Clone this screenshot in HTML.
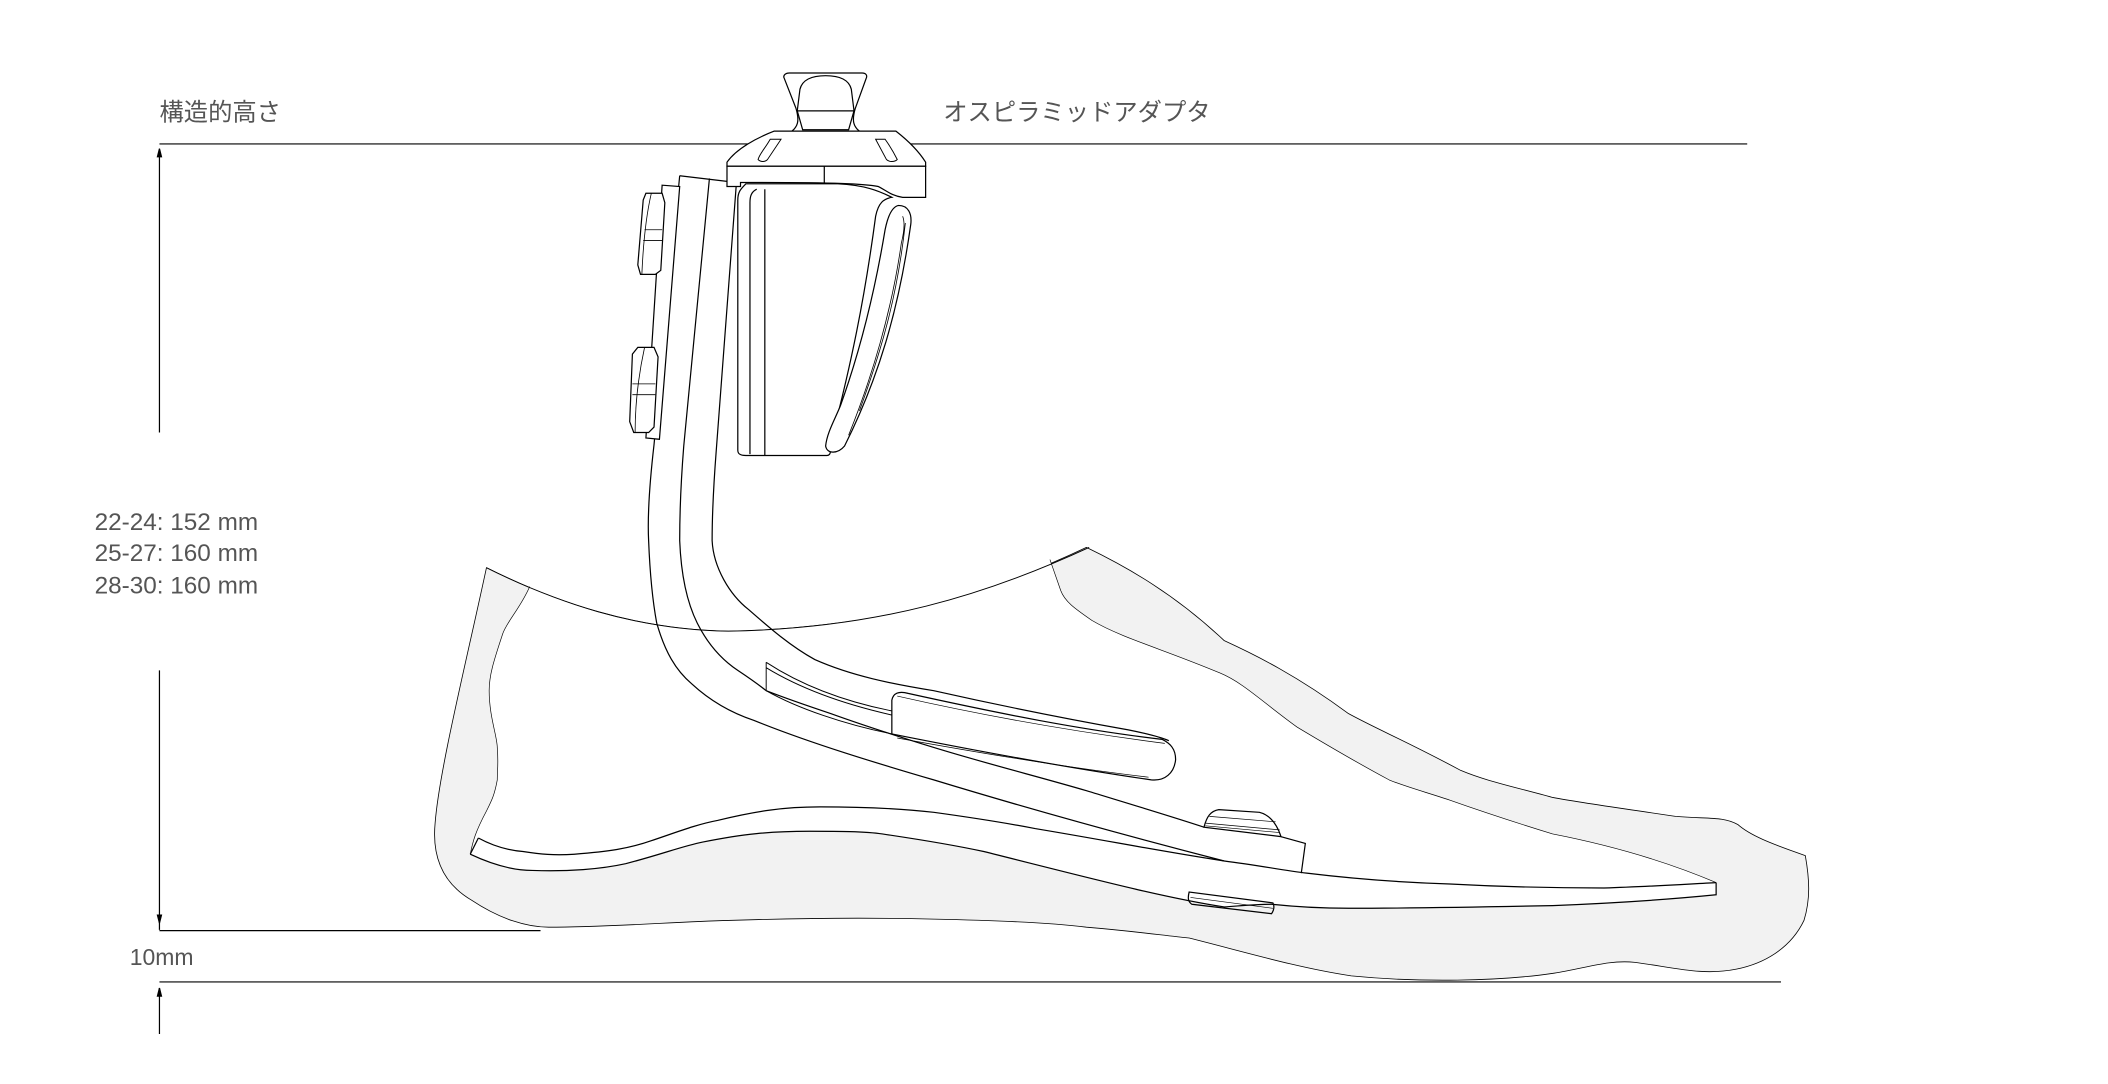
<!DOCTYPE html>
<html><head><meta charset="utf-8"><style>
html,body{margin:0;padding:0;background:#fff;}
svg{display:block}
text{font-family:"Liberation Sans","Noto Sans CJK JP",sans-serif;fill:#555;font-size:18px}
</style></head><body>
<svg width="2108" height="1084" viewBox="0 0 1560 802" preserveAspectRatio="none" xmlns="http://www.w3.org/2000/svg">
<g fill="none" stroke="#000" stroke-width="0.9">
<line x1="118" y1="106.5" x2="1293" y2="106.5"/>
<line x1="118" y1="112" x2="118" y2="320"/>
<path d="M118 110 l-1.5 6 h3z" fill="#000"/>
<line x1="118" y1="496" x2="118" y2="688"/>
<path d="M118 683 l-1.5 -6 h3z" fill="#000"/>
<line x1="118" y1="688.5" x2="400" y2="688.5"/>
<line x1="118" y1="726.5" x2="1318" y2="726.5"/>
<line x1="118" y1="731" x2="118" y2="765"/>
<path d="M118 731 l-1.5 6 h3z" fill="#000"/>

<path fill="#f2f2f2" stroke-width="0.6" d="M360 420 C345 490 325 570 322 609 C320 630 325 652 349 666 C370 680 390 686 406 686 C450 686 500 682 539 681 C600 679 650 679 691 680 C740 681 780 683 804 686 C840 689 860 692 880 694 C920 704 960 716 1000 722 C1050 727 1110 726 1150 720 C1175 716 1190 710 1210 712 C1240 716 1260 722 1285 717 C1305 713 1325 702 1335 681 C1340 665 1339 650 1336 633 C1310 624 1295 618 1286 610 C1275 604 1265 606 1240 604 C1200 598 1170 594 1149 590 C1120 582 1100 578 1081 570 C1040 548 1020 540 998 528 C960 500 930 485 906 474 C870 440 835 420 804 405 C730 440 650 465 539 467 C470 466 410 445 360 420 Z"/>
<path fill="#fff" stroke="none" d="M392 434 C385 450 375 460 372 469 C365 490 362 500 362 511 C362 530 368 545 368 553 C369 565 368 570 368 577 C366 588 364 592 360 600 C352 615 350 622 348 632 C365 640 380 644 394 644 C420 645 445 643 463 639 C490 632 505 626 520 623 C550 617 570 615 599 615 C620 615 640 615 653 617 C680 621 705 625 728 630 C800 648 860 664 906 671 C920 670 930 669 941 669 C960 671 980 672 998 672 C1050 672 1100 671 1149 670 C1200 668 1240 665 1270 662 L1270 653 C1230 636 1190 625 1149 617 C1110 605 1090 598 1073 592 C1055 586 1040 582 1028 577 C1000 562 980 550 960 538 C935 520 920 505 903 498 C860 480 830 472 808 459 C795 450 788 445 785 437 L777 414 C700 445 640 465 539 467 C480 466 430 452 392 434 Z"/>
<path stroke-width="0.7" d="M360 420 C410 445 470 466 539 467 C650 465 730 440 806 405"/>
<path stroke-width="0.5" d="M392 434 C385 450 375 460 372 469 C365 490 362 500 362 511 C362 530 368 545 368 553 C369 565 368 570 368 577 C366 588 364 592 360 600 C352 615 350 622 348 632"/>
<path stroke-width="0.5" d="M777 414 L785 437 C788 445 795 450 808 459 C830 472 860 480 903 498 C920 505 935 520 960 538 C980 550 1000 562 1028 577 C1040 582 1055 586 1073 592 C1090 598 1110 605 1149 617 C1190 625 1230 636 1270 653"/>
<path d="M354 620 C365 626 375 629 387 630 C400 632 410 633 425 632 C450 630 465 628 482 622 C500 616 515 610 531 607 C560 600 580 597 607 597 C640 597 665 598 691 601 C720 605 740 608 766 613 C820 622 860 630 906 637 C930 640 950 644 967 646 C1000 650 1040 653 1073 654 C1110 656 1150 657 1187 657 C1220 656 1250 654 1270 653"/>
<path d="M348 632 C365 640 380 644 394 644 C420 645 445 643 463 639 C490 632 505 626 520 623 C550 617 570 615 599 615 C620 615 640 615 653 617 C680 621 705 625 728 630 C800 648 860 664 906 671 C920 670 930 669 941 669 C960 671 980 672 998 672 C1050 672 1100 671 1149 670 C1200 668 1240 665 1270 662 L1270 653"/>
<path d="M348 632 L354 620"/>
<path d="M503 130 L545 135"/>
<path d="M503 130 L484 329 C481 355 479 380 480 400 C481 425 483 445 486 461 C492 482 500 496 512 506 C525 518 540 527 558 533 C600 550 650 565 691 577 C760 598 840 620 906 637"/>
<path d="M525 132 L506 330 C504 355 503 380 503 400 C504 425 508 445 516 461 C524 477 534 488 546 496 C555 502 562 507 567 511 C585 518 600 523 615 528 C640 537 665 545 691 553 C730 565 770 575 804 585 C840 596 870 605 891 612"/>
<path d="M545 135 L530 334 C528 360 527 385 527 400 C528 420 540 440 554 451 C570 465 585 478 603 488 C630 500 660 506 691 511 C740 522 790 532 835 540 C850 543 858 545 865 548"/>
<path stroke-width="0.7" d="M567 490 L567 511 M567 490 C590 505 620 518 660 526 M567 494 C590 508 620 520 660 529 M567 511 C590 524 625 536 660 543"/>
<path d="M660 543 L660 518 C661 513 665 511 672 513 C740 528 800 540 860 547 C866 550 870 554 870 562 C869 572 862 578 852 577 C790 568 720 555 660 543 Z"/>
<path stroke-width="0.5" d="M664 515 C730 530 800 542 862 550 M664 546 C730 558 790 568 850 575"/>
<path d="M891 612 C893 604 896 600 902 599 L932 601 C940 603 945 610 948 619 Z"/>
<path stroke-width="0.5" d="M895 604 L944 608 M892 609 L947 614 M892 611 L947 616"/>
<path d="M948 619 L966 624 L963 646"/>
<path d="M880 660 C879 664 879 667 882 669 L941 676 C943 673 943 670 942 668 Z"/>
<path stroke-width="0.5" d="M881 664 L942 672"/>

<path fill="#fff" d="M580 57 C580 55 582 54 584 54 L638 54 C641 54 642 56 641 58 L633 80 C630 90 632 94 636 97 L586 97 C590 94 592 90 589 80 Z"/>
<path fill="#fff" d="M592 66 C594 58 602 56 611 56 C620 56 628 58 630 66 L632 82 L628 96 L594 96 L590 82 Z"/>
<line x1="590" y1="82" x2="632" y2="82"/>
<path fill="#fff" d="M573 97 L663 97 C672 104 680 112 685 120 L685 123 L538 123 L538 120 C545 110 560 102 573 97 Z"/>
<path stroke-width="0.7" d="M570 103 C566 110 562 114 561 118 C563 120 566 120 568 118 L578 103 Z"/>
<path stroke-width="0.7" d="M648 103 L656 118 C658 120 662 120 664 118 C662 114 660 110 655 103 Z"/>
<path fill="#fff" d="M538 123 L685 123 L685 146 L668 146 C660 145 656 141 650 138 C640 136 620 135 555 135 L548 135 L548 138 L538 138 Z"/>
<line x1="610" y1="123" x2="610" y2="136"/>
<path fill="#fff" d="M552 136 C548 140 546 142 546 148 L546 333 C546 336 548 337 552 337 L612 337 C615 337 615 333 614 330 C630 270 640 220 648 160 C650 150 654 147 660 146 C650 141 640 137 620 136 Z"/>
<path d="M560 140 C556 142 555 145 555 150 L555 336 M566 140 L566 337"/>
<path fill="#fff" d="M665 152 C672 152 675 158 674 166 C665 230 650 280 625 330 C620 336 612 336 611 330 C612 320 618 310 622 300 C640 250 650 200 655 170 C657 160 660 153 665 152 Z"/>
<path stroke-width="0.6" d="M668 160 C670 165 669 172 667 180 C660 230 645 280 628 322 M670 165 C664 220 652 260 636 304"/>
<path fill="#fff" d="M490 137 L503 138 L488 325 L478 324 Z"/>
<path fill="#fff" d="M478 143 L490 143 L492 150 L489 200 L485 203 L474 203 L472 196 L476 148 Z"/>
<path stroke-width="0.6" d="M482 143 C478 160 476 180 475 203 M477 170 L490 170 M476 178 L490 178"/>
<path fill="#fff" d="M472 257 L484 257 L487 264 L484 316 L480 320 L469 320 L466 312 L468 262 Z"/>
<path stroke-width="0.6" d="M477 257 C472 280 470 300 470 320 M468 284 L485 284 M468 292 L485 292"/>
</g>
<text x="118" y="89">構造的高さ</text>
<text x="698" y="89">オスピラミッドアダプタ</text>
<text x="70" y="392" style="font-size:18px">22-24: 152 mm</text>
<text x="70" y="415" style="font-size:18px">25-27: 160 mm</text>
<text x="70" y="439" style="font-size:18px">28-30: 160 mm</text>
<text x="96" y="714" style="font-size:17px">10mm</text>
</svg>
</body></html>
